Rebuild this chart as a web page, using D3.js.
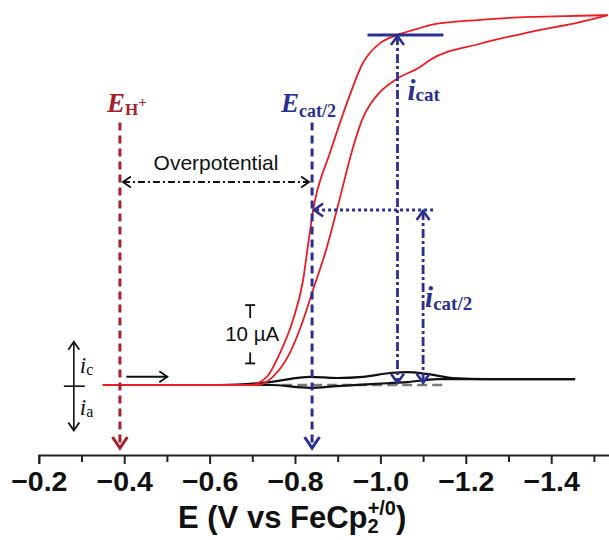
<!DOCTYPE html>
<html>
<head>
<meta charset="utf-8">
<script src="https://cdn.jsdelivr.net/npm/d3@7"></script>
<style>
  html, body { margin: 0; padding: 0; background: #fff; }
  svg { display: block; }
</style>
</head>
<body>
<svg id="chart" width="609" height="540"></svg>
<script>
// Potential axis (V vs FeCp2+/0) — labelled and minor tick positions
const majorTicks = [-0.2, -0.4, -0.6, -0.8, -1.0, -1.2, -1.4];
const minorTicks = [-0.3, -0.5, -0.7, -0.9, -1.1, -1.3, -1.5];

// Catalytic CV with acid (red): forward scan and return scan, current in µA
const fwdE = [-0.350, -0.711, -0.748, -0.788, -0.819, -0.840, -0.875, -0.898, -0.917, -0.929, -0.945, -0.959, -0.980, -0.999, -1.039, -1.093, -1.116, -1.233, -1.350, -1.467, -1.533];
const fwdI = [0, 0, 1.4, 5.5, 11.1, 15.8, 23.7, 30.0, 35.5, 38.9, 42.9, 45.8, 48.5, 50.2, 52.5, 54.5, 55.7, 58.5, 60.5, 62.2, 63.4];
const revE = [-0.350, -0.695, -0.734, -0.765, -0.795, -0.819, -0.830, -0.838, -0.842, -0.847, -0.882, -0.922, -0.959, -0.999, -1.039, -1.093, -1.116, -1.233, -1.350, -1.467, -1.533];
const revI = [0, 0, 1.4, 5.5, 11.1, 18.0, 23.7, 27.8, 29.8, 31.7, 39.8, 48.4, 55.2, 58.6, 60.0, 61.2, 61.7, 62.6, 63.1, 63.3, 63.4];

// Catalyst alone, no acid (black)
const blankFwdE = [-0.350, -0.624, -0.742, -0.835, -0.898, -0.959, -1.029, -1.062, -1.109, -1.170, -1.250, -1.456];
const blankFwdI = [0, 0, 0.5, 1.4, 1.2, 1.4, 2.1, 2.2, 1.9, 1.2, 1.0, 1.0];
const blankRevE = [-0.350, -0.624, -0.742, -0.835, -0.898, -1.015, -1.062, -1.133, -1.250, -1.456];
const blankRevI = [0, 0, 0, -0.5, -0.2, 0.3, 0.5, 1.0, 1.0, 1.0];

// Key potentials and currents
const E_H = -0.39;          // thermodynamic potential for H+ reduction
const E_cat2 = -0.84;       // half-wave potential of the catalytic wave
const E_icat = -1.04;       // where the plateau current is read
const E_icat2 = -1.10;      // where the half current is drawn
const i_cat = 60;           // µA
const i_cat2 = 30;          // µA
const baselineRange = [-0.77, -1.15];  // extrapolated baseline

const W = 609, H = 540;
const svg = d3.select("#chart");

const x = d3.scaleLinear().domain([-0.2, -1.6]).range([38.8, 636.6]);
const y = d3.scaleLinear().domain([-12, 66]).range([455, 0]);

const RED = "#ec1c24", DARKRED = "#a3232b", NAVY = "#2b3090", BLACK = "#111";

// Arrowhead markers
const defs = svg.append("defs");
function chevron(id, color, w, h, sw) {
  defs.append("marker")
    .attr("id", id)
    .attr("markerUnits", "userSpaceOnUse")
    .attr("viewBox", `0 0 ${w + sw * 2} ${h + sw * 2}`)
    .attr("markerWidth", w + sw * 2)
    .attr("markerHeight", h + sw * 2)
    .attr("refX", w + sw)
    .attr("refY", h / 2 + sw)
    .attr("orient", "auto-start-reverse")
    .append("path")
    .attr("d", `M${sw},${sw} L${w + sw},${h / 2 + sw} L${sw},${h + sw}`)
    .attr("fill", "none")
    .attr("stroke", color)
    .attr("stroke-width", sw)
    .attr("stroke-linejoin", "miter");
}
chevron("arRed", DARKRED, 11, 15, 3);
chevron("arNavy", NAVY, 11, 15, 3);
chevron("arNavySm", NAVY, 9, 13, 2.6);
chevron("arBlack", BLACK, 8, 11, 1.8);

// Axis
const axisG = svg.append("g").attr("transform", `translate(0,${y(-12)})`);
axisG.call(d3.axisBottom(x).tickValues(majorTicks).tickSize(9).tickFormat(d3.format(".1f")))
  .call(g => g.select(".domain").attr("stroke", "#222").attr("stroke-width", 2))
  .call(g => g.selectAll(".tick line").attr("stroke", "#222").attr("stroke-width", 2))
  .call(g => g.selectAll(".tick text")
    .attr("dy", 0).attr("y", 36)
    .attr("font-family", "'Liberation Sans', Arial, sans-serif")
    .attr("font-weight", "bold").attr("font-size", 28.5).attr("fill", "#111"));
axisG.append("g").call(d3.axisBottom(x).tickValues(minorTicks).tickSize(7).tickFormat(""))
  .call(g => g.select(".domain").remove())
  .call(g => g.selectAll(".tick line").attr("stroke", "#222").attr("stroke-width", 2));

// Axis title with FeCp2 sub/superscripts
const title = svg.append("text")
  .attr("x", 178).attr("y", 528)
  .attr("font-family", "'Liberation Sans', Arial, sans-serif")
  .attr("font-weight", "bold").attr("font-size", 31).attr("fill", "#111");
title.append("tspan").text("E (V vs FeCp");
title.append("tspan").attr("font-size", 20).attr("dy", 5).text("2");
title.append("tspan").attr("font-size", 20).attr("dx", -11).attr("dy", -18).text("+/0");
title.append("tspan").attr("dy", 13).text(")");

// Curves
const line = d3.line().x(d => x(d[0])).y(d => y(d[1])).curve(d3.curveMonotoneX);
const zip = (a, b) => a.map((v, k) => [v, b[k]]);

// extrapolated baseline (grey dashed)
svg.append("line")
  .attr("x1", x(baselineRange[0])).attr("x2", x(baselineRange[1]))
  .attr("y1", y(0)).attr("y2", y(0))
  .attr("stroke", "#7a7a7a").attr("stroke-width", 2.4).attr("stroke-dasharray", "10,5");

svg.append("path").attr("d", line(zip(blankRevE, blankRevI)))
  .attr("fill", "none").attr("stroke", BLACK).attr("stroke-width", 2.2);
svg.append("path").attr("d", line(zip(blankFwdE, blankFwdI)))
  .attr("fill", "none").attr("stroke", BLACK).attr("stroke-width", 2.2);

svg.append("path").attr("d", line(zip(fwdE, fwdI)))
  .attr("fill", "none").attr("stroke", RED).attr("stroke-width", 1.8);
svg.append("path").attr("d", line(zip(revE, revI)))
  .attr("fill", "none").attr("stroke", RED).attr("stroke-width", 1.8);

// Vertical guides for E(H+) and Ecat/2
const guideTop = 45;
svg.append("line")
  .attr("x1", x(E_H)).attr("x2", x(E_H)).attr("y1", y(guideTop)).attr("y2", y(-10.8))
  .attr("stroke", DARKRED).attr("stroke-width", 3).attr("stroke-dasharray", "8,5")
  .attr("marker-end", "url(#arRed)");
svg.append("line")
  .attr("x1", x(E_cat2)).attr("x2", x(E_cat2)).attr("y1", y(guideTop)).attr("y2", y(-10.8))
  .attr("stroke", NAVY).attr("stroke-width", 3).attr("stroke-dasharray", "8,5")
  .attr("marker-end", "url(#arNavy)");

// Overpotential span
const opI = 34.8;
svg.append("line")
  .attr("x1", x(E_H) + 3).attr("x2", x(E_cat2) - 3).attr("y1", y(opI)).attr("y2", y(opI))
  .attr("stroke", BLACK).attr("stroke-width", 2).attr("stroke-dasharray", "7,3,2,3")
  .attr("marker-start", "url(#arBlack)").attr("marker-end", "url(#arBlack)");
svg.append("text")
  .attr("x", (x(E_H) + x(E_cat2)) / 2).attr("y", y(opI) - 12)
  .attr("text-anchor", "middle")
  .attr("font-family", "'Liberation Sans', Arial, sans-serif").attr("font-size", 21).attr("fill", "#111")
  .text("Overpotential");

// icat plateau marker and double arrow
svg.append("line")
  .attr("x1", x(E_icat) - 30).attr("x2", x(E_icat) + 46).attr("y1", y(i_cat)).attr("y2", y(i_cat))
  .attr("stroke", NAVY).attr("stroke-width", 3.2);
svg.append("line")
  .attr("x1", x(E_icat)).attr("x2", x(E_icat)).attr("y1", y(i_cat) + 1).attr("y2", y(0.4))
  .attr("stroke", NAVY).attr("stroke-width", 2.8).attr("stroke-dasharray", "9,3,3,3")
  .attr("marker-start", "url(#arNavySm)").attr("marker-end", "url(#arNavySm)");

// icat/2 double arrow and horizontal pointer to the wave
svg.append("line")
  .attr("x1", x(E_icat2)).attr("x2", x(E_icat2)).attr("y1", y(i_cat2) + 1).attr("y2", y(0.4))
  .attr("stroke", NAVY).attr("stroke-width", 2.8).attr("stroke-dasharray", "9,3,3,3")
  .attr("marker-start", "url(#arNavySm)").attr("marker-end", "url(#arNavySm)");
svg.append("line")
  .attr("x1", x(E_icat2) + 10).attr("x2", x(E_cat2) + 2).attr("y1", y(i_cat2)).attr("y2", y(i_cat2))
  .attr("stroke", NAVY).attr("stroke-width", 3).attr("stroke-dasharray", "3,3")
  .attr("marker-end", "url(#arNavySm)");

// Labels
const serif = "'Liberation Serif', 'Times New Roman', serif";
function symLabel(px, py, color, main, sub, sup, opts = {}) {
  const t = svg.append("text").attr("x", px).attr("y", py)
    .attr("font-family", serif).attr("fill", color);
  t.append("tspan").attr("font-style", "italic").attr("font-weight", opts.mainWeight || "bold")
    .attr("font-size", opts.mainSize || 27).text(main);
  t.append("tspan").attr("font-weight", opts.subWeight || "bold")
    .attr("font-size", opts.subSize || 18).attr("dy", opts.subDy || 4).text(sub);
  if (sup) t.append("tspan").attr("font-weight", "bold").attr("font-size", 15)
    .attr("dy", -8).text(sup);
  return t;
}
symLabel(x(E_H) - 13, 112, DARKRED, "E", "H", "+", { subSize: 17, subDy: 3 });
symLabel(x(E_cat2) - 31, 112, NAVY, "E", "cat/2", null, { subSize: 18, subDy: 5 });
symLabel(x(E_icat) + 10, 100, NAVY, "i", "cat", null, { mainSize: 29, subSize: 19, subDy: 1 });
symLabel(x(E_icat2) + 2, 307, NAVY, "i", "cat/2", null, { mainSize: 29, subSize: 19, subDy: 3 });

// 10 µA scale bar
const sbE = -0.695, sbLo = 3.7, sbHi = 13.7;
const sbX = x(sbE);
svg.append("line").attr("x1", sbX - 5).attr("x2", sbX + 5).attr("y1", y(sbHi)).attr("y2", y(sbHi))
  .attr("stroke", "#111").attr("stroke-width", 1.8);
svg.append("line").attr("x1", sbX).attr("x2", sbX).attr("y1", y(sbHi)).attr("y2", y(sbHi) + 13)
  .attr("stroke", "#111").attr("stroke-width", 1.8);
svg.append("line").attr("x1", sbX - 5).attr("x2", sbX + 5).attr("y1", y(sbLo)).attr("y2", y(sbLo))
  .attr("stroke", "#111").attr("stroke-width", 1.8);
svg.append("line").attr("x1", sbX).attr("x2", sbX).attr("y1", y(sbLo)).attr("y2", y(sbLo) - 11)
  .attr("stroke", "#111").attr("stroke-width", 1.8);
svg.append("text").attr("x", sbX + 2).attr("y", y((sbLo + sbHi) / 2) + 7)
  .attr("text-anchor", "middle")
  .attr("font-family", "'Liberation Sans', Arial, sans-serif").attr("font-size", 20.5).attr("fill", "#111")
  .text("10 µA");

// Current sign convention: cathodic up, anodic down
const convE = -0.282;
svg.append("line").attr("x1", x(convE)).attr("x2", x(convE)).attr("y1", y(7.4)).attr("y2", y(-7.8))
  .attr("stroke", "#111").attr("stroke-width", 1.6)
  .attr("marker-start", "url(#arBlack)").attr("marker-end", "url(#arBlack)");
svg.append("line").attr("x1", x(convE) - 10).attr("x2", x(convE) + 11).attr("y1", y(-0.2)).attr("y2", y(-0.2))
  .attr("stroke", "#111").attr("stroke-width", 1.6);
const ic = svg.append("text").attr("x", x(convE) + 6).attr("y", 373).attr("font-family", serif).attr("fill", "#111");
ic.append("tspan").attr("font-style", "italic").attr("font-size", 23).text("i");
ic.append("tspan").attr("font-size", 16).attr("dy", 2).text("c");
const ia = svg.append("text").attr("x", x(convE) + 6).attr("y", 415).attr("font-family", serif).attr("fill", "#111");
ia.append("tspan").attr("font-style", "italic").attr("font-size", 23).text("i");
ia.append("tspan").attr("font-size", 16).attr("dy", 2).text("a");

// Scan direction
svg.append("line").attr("x1", x(-0.405)).attr("x2", x(-0.501)).attr("y1", y(1.4)).attr("y2", y(1.4))
  .attr("stroke", "#111").attr("stroke-width", 2)
  .attr("marker-end", "url(#arBlack)");
</script>
</body>
</html>
